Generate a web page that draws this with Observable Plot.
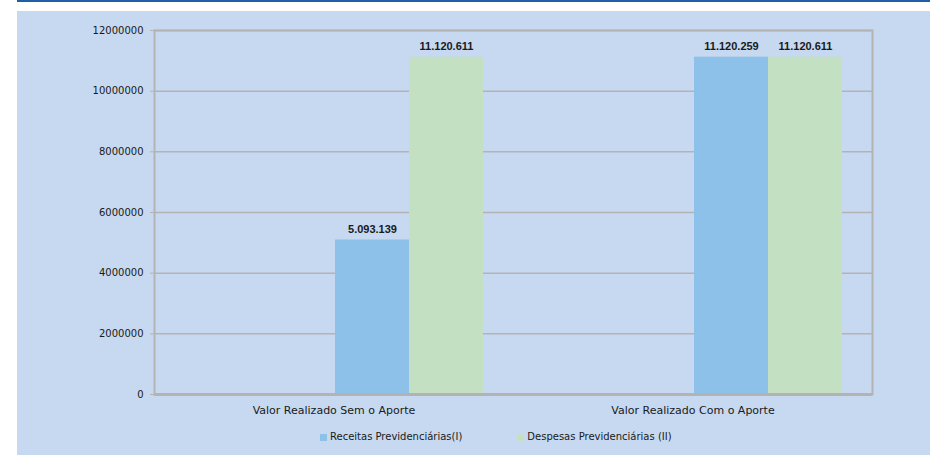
<!DOCTYPE html>
<html>
<head>
<meta charset="utf-8">
<script src="https://cdn.jsdelivr.net/npm/d3@7"></script>
<script src="https://cdn.jsdelivr.net/npm/@observablehq/plot@0.6"></script>
<style>
  body { margin: 0; background: #ffffff; width: 930px; height: 455px; overflow: hidden; }
  #topline { position: absolute; left: 17px; top: 0; width: 913px; height: 2px; background: #1f5fa8; }
  #panel { position: absolute; left: 17px; top: 11px; width: 913px; height: 444px; background: #c6d9f0; }
  #panel svg { display: block; }
  #legend { position: absolute; left: 303px; top: 419px; display: flex; font-family: "DejaVu Sans", sans-serif; font-size: 10px; color: #1a1a1a; line-height: 14px; }
  #legend .item { display: flex; align-items: center; margin-right: 55px; }
  #legend .sw { width: 7px; height: 7px; margin-right: 3px; }
</style>
</head>
<body>
<div id="topline"></div>
<div id="panel"><div id="legend"></div></div>
<script>
const categories = ["Valor Realizado Sem o Aporte", "Valor Realizado Com o Aporte"];
const series = ["Receitas Previdenciárias(I)", "Despesas Previdenciárias (II)"];
const receitas = [5093139, 11120259];
const despesas = [11120611, 11120611];
const yTicks = [0, 2000000, 4000000, 6000000, 8000000, 10000000, 12000000];
const colors = ["#8dc1e9", "#c3e1c2"];

const data = [];
categories.forEach((c, i) => {
  data.push({category: c, series: series[0], value: receitas[i]});
  data.push({category: c, series: series[1], value: despesas[i]});
});

const br = d3.formatLocale({decimal: ",", thousands: ".", grouping: [3], currency: ["R$", ""]});
const fmt = br.format(",d");

const chart = Plot.plot({
  width: 913,
  height: 409,
  marginTop: 19,
  marginLeft: 136,
  marginRight: 58,
  marginBottom: 26,
  style: {background: "transparent", fontFamily: "DejaVu Sans, sans-serif", fontSize: "10px", color: "#1a1a1a"},
  fx: {domain: categories, padding: 0, label: null},
  x: {domain: series, paddingInner: 0, paddingOuter: 1.4, align: 0.857, axis: null},
  y: {domain: [0, 12000000], label: null},
  color: {domain: series, range: colors},
  marks: [
    Plot.ruleY(yTicks, {stroke: "#b3b3b3", strokeWidth: 1.5}),
    Plot.barY(data, {fx: "category", x: "series", y: "value", fill: "series"}),
    Plot.text(data, {fx: "category", x: "series", y: "value", text: d => fmt(d.value), dy: -11,
      fontFamily: "Liberation Sans, Arial, sans-serif", fontWeight: "bold", fontSize: 11, fill: "#1a1a1a"}),
    Plot.frame({stroke: "#b3b3b3", strokeWidth: 2, facet: "super"}),
    Plot.ruleY([0], {stroke: "#b3b3b3", strokeWidth: 3}),
    Plot.axisY({ticks: yTicks, tickSize: 4, tickPadding: 7, tickFormat: d => String(d), stroke: "#b3b3b3", fill: "#1a1a1a", fontSize: 10, label: null}),
    Plot.axisFx({anchor: "bottom", tickSize: 0, tickPadding: 12, fontSize: 11, label: null, fill: "#1a1a1a"})
  ]
});
document.getElementById("panel").insertBefore(chart, document.getElementById("legend"));

const legend = document.getElementById("legend");
series.forEach((s, i) => {
  const item = document.createElement("div");
  item.className = "item";
  const sw = document.createElement("span");
  sw.className = "sw";
  sw.style.background = colors[i];
  const t = document.createElement("span");
  t.textContent = s;
  item.appendChild(sw);
  item.appendChild(t);
  legend.appendChild(item);
});
</script>
</body>
</html>
